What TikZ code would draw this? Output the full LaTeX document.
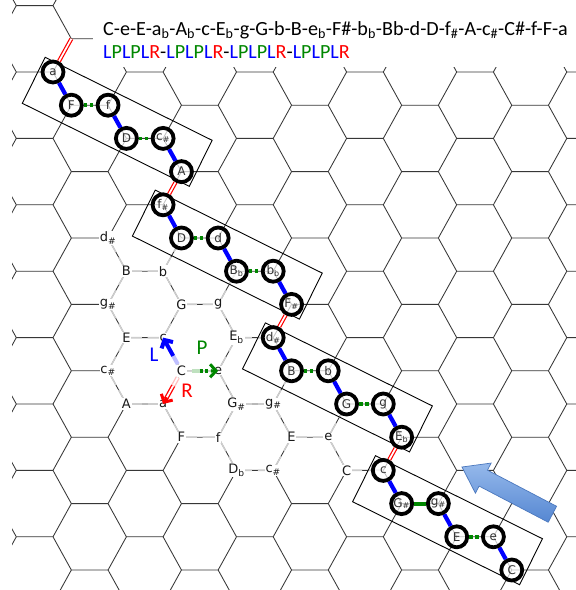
\documentclass[tikz,border=0pt]{standalone}
\usepackage{fontspec}
\setmainfont{Carlito}
\newfontfamily\labfont{DejaVu Sans}
\usetikzlibrary{calc,arrows.meta}
\definecolor{lblue}{RGB}{0,0,255}
\definecolor{pgreen}{RGB}{0,135,0}
\definecolor{rred}{RGB}{255,0,0}
\definecolor{gridc}{RGB}{55,55,55}
\definecolor{latg}{RGB}{205,205,205}
\definecolor{arrfillA}{RGB}{150,185,235}
\definecolor{arrfillB}{RGB}{85,135,210}
\definecolor{arrdraw}{RGB}{75,120,190}
\newcommand{\mysub}[1]{\textsubscript{#1}}
\newcommand{\Lx}{\textcolor{lblue}{L}}
\newcommand{\Px}{\textcolor{pgreen}{P}}
\newcommand{\Rx}{\textcolor{rred}{R}}
\newcommand{\gedge}[2]{\draw[latline] (#1) -- ($(#1)!0.42!(#2)$); \draw[latline] (#2) -- ($(#2)!0.42!(#1)$);}
\begin{document}
\begin{tikzpicture}[x=1pt,y=-1pt,
  gridline/.style={draw=gridc, line width=0.85pt},
  latline/.style={draw=latg, line width=1.5pt},
  lab/.style={fill=white, inner sep=0.8pt, text=black!90, font=\labfont\fontsize{13}{13}\selectfont},
  cn/.style={circle, draw=black, line width=3.8pt, minimum size=21pt, inner sep=0pt, fill=white, fill opacity=0.7, text opacity=1, text=black!80, font=\labfont\fontsize{12}{12}\selectfont},
  grp/.style={draw=black, line width=0.9pt},
  Lc/.style={draw=lblue, line width=4.2pt},
  Pc/.style={draw=pgreen, line width=3.8pt, dash pattern=on 3.5pt off 2.5pt},
  Pcs/.style={draw=pgreen, line width=3.8pt},
  Rc/.style={draw=rred, double=white, line width=1.2pt, double distance=1.7pt},
  leg/.style={font=\fontsize{21}{21}\selectfont, inner sep=0pt}
]
\useasboundingbox (0,0) rectangle (576,590);
\fill[white] (0,0) rectangle (576,590);

% background honeycomb
\begin{scope}
\clip (12,0) rectangle (576,590);
\begin{scope}[shift={(126.4,404)}, x=36.7pt, y=-33.2pt]
\foreach \k in {-13,...,6}{
  \pgfmathtruncatemacro{\pp}{mod(\k+20,2)}
  \foreach \n in {-2,...,4}{
    \pgfmathsetmacro{\mlft}{1.5*\pp+3*\n}
    \draw[gridline] (\mlft,\k) -- (\mlft+1,\k) (\mlft,\k) -- (\mlft-0.5,\k+1) (\mlft+1,\k) -- (\mlft+1.5,\k+1);
  }
}
\end{scope}
\end{scope}
\fill[white] (93,0) rectangle (576,67);

% lattice coordinates
\begin{scope}[shift={(126.4,404)}, x=36.7pt, y=-33.2pt]
\coordinate (tdis) at (-0.5,-5);
\coordinate (tB) at (0,-4);
\coordinate (tb) at (1,-4);
\coordinate (tgis) at (-0.5,-3);
\coordinate (tG) at (1.5,-3);
\coordinate (tg) at (2.5,-3);
\coordinate (tE) at (0,-2);
\coordinate (tc) at (1,-2);
\coordinate (tEs) at (3,-2);
\coordinate (tcis) at (-0.5,-1);
\coordinate (tC) at (1.5,-1);
\coordinate (te) at (2.5,-1);
\coordinate (tA) at (0,0);
\coordinate (ta) at (1,0);
\coordinate (tGis) at (3,0);
\coordinate (tgisb) at (4,0);
\coordinate (tF) at (1.5,1);
\coordinate (tf) at (2.5,1);
\coordinate (tEb) at (4.5,1);
\coordinate (teb) at (5.5,1);
\coordinate (tDes) at (3,2);
\coordinate (tcisb) at (4,2);
\coordinate (tCb) at (6,2);
\coordinate (q1a) at (-2,-10);
\coordinate (q1F) at (-1.5,-9);
\coordinate (q1f) at (-0.5,-9);
\coordinate (q1D) at (0,-8);
\coordinate (q1cis) at (1,-8);
\coordinate (q1A) at (1.5,-7);
\coordinate (q2fis) at (1,-6);
\coordinate (q2D) at (1.5,-5);
\coordinate (q2d) at (2.5,-5);
\coordinate (q2Bb) at (3,-4);
\coordinate (q2bb) at (4,-4);
\coordinate (q2Fis) at (4.5,-3);
\coordinate (q3dis) at (4,-2);
\coordinate (q3B) at (4.5,-1);
\coordinate (q3b) at (5.5,-1);
\coordinate (q3G) at (6,0);
\coordinate (q3g) at (7,0);
\coordinate (q3Eb) at (7.5,1);
\coordinate (q4c) at (7,2);
\coordinate (q4Gis) at (7.5,3);
\coordinate (q4gis) at (8.5,3);
\coordinate (q4E) at (9,4);
\coordinate (q4e) at (10,4);
\coordinate (q4C) at (10.5,5);
\coordinate (qtop) at (-1.5,-11);
\end{scope}

% light Tonnetz edges
\gedge{tdis}{tB} \gedge{tB}{tb} \gedge{tB}{tgis} \gedge{tb}{q2D} \gedge{tb}{tG}
\gedge{tgis}{tE} \gedge{tG}{tg} \gedge{tG}{tc} \gedge{tg}{q2Bb} \gedge{tg}{tEs}
\gedge{tE}{tc} \gedge{tE}{tcis} \gedge{tc}{tC} \gedge{tEs}{q3dis} \gedge{tEs}{te}
\gedge{tcis}{tA} \gedge{tC}{te} \gedge{tC}{ta} \gedge{te}{tGis} \gedge{tA}{ta}
\gedge{ta}{tF} \gedge{tGis}{tgisb} \gedge{tGis}{tf} \gedge{tgisb}{q3B} \gedge{tgisb}{tEb}
\gedge{tF}{tf} \gedge{tf}{tDes} \gedge{tEb}{teb} \gedge{tEb}{tcisb} \gedge{teb}{q3G}
\gedge{teb}{tCb} \gedge{tDes}{tcisb} \gedge{tCb}{q4c}

% Tonnetz labels
\node[lab] (Ldis) at (tdis) {d\mysub{\#}};
\node[lab] (LB) at (tB) {B};
\node[lab] (Lb) at (tb) {b};
\node[lab] (Lgis) at (tgis) {g\mysub{\#}};
\node[lab] (LG) at (tG) {G};
\node[lab] (Lg) at (tg) {g};
\node[lab] (LE) at (tE) {E};
\node[lab] (Lc) at (tc) {c};
\node[lab] (LEs) at (tEs) {E\mysub{b}};
\node[lab] (Lcis) at (tcis) {c\mysub{\#}};
\node[lab] (LC) at (tC) {C};
\node[lab] (Le) at (te) {e};
\node[lab] (LA) at (tA) {A};
\node[lab] (La) at (ta) {a};
\node[lab] (LGis) at (tGis) {G\mysub{\#}};
\node[lab] (Lgisb) at (tgisb) {g\mysub{\#}};
\node[lab] (LF) at (tF) {F};
\node[lab] (Lf) at (tf) {f};
\node[lab] (LEb) at (tEb) {E};
\node[lab] (Leb) at (teb) {e};
\node[lab] (LDes) at (tDes) {D\mysub{b}};
\node[lab] (Lcisb) at (tcisb) {c\mysub{\#}};
\node[lab] (LCb) at (tCb) {C};

% group frames
\coordinate (g1) at ($(q1a)!0.5!(q1A)$);
\coordinate (g2) at ($(q2fis)!0.5!(q2Fis)$);
\coordinate (g3) at ($(q3dis)!0.5!(q3Eb)$);
\coordinate (g4) at ($(q4c)!0.5!(q4C)$);
\foreach \g in {g1,g2,g3,g4}{
  \draw[grp, shift={(\g)}] (-72.1,-64.5) -- (94.9,18.5) -- (72.1,64.5) -- (-94.9,-18.5) -- cycle;
}

% chain circles
\node[cn] (n1a) at (q1a) {a};
\node[cn] (n1F) at (q1F) {F};
\node[cn] (n1f) at (q1f) {f};
\node[cn] (n1D) at (q1D) {D};
\node[cn] (n1cis) at (q1cis) {c\mysub{\#}};
\node[cn] (n1A) at (q1A) {A};
\node[cn] (n2fis) at (q2fis) {f\mysub{\#}};
\node[cn] (n2D) at (q2D) {D};
\node[cn] (n2d) at (q2d) {d};
\node[cn] (n2Bb) at (q2Bb) {B\mysub{b}};
\node[cn] (n2bb) at (q2bb) {b\mysub{b}};
\node[cn] (n2Fis) at (q2Fis) {F\mysub{\#}};
\node[cn] (n3dis) at (q3dis) {d\mysub{\#}};
\node[cn] (n3B) at (q3B) {B};
\node[cn] (n3b) at (q3b) {b};
\node[cn] (n3G) at (q3G) {G};
\node[cn] (n3g) at (q3g) {g};
\node[cn] (n3Eb) at (q3Eb) {E\mysub{b}};
\node[cn] (n4c) at (q4c) {c};
\node[cn] (n4Gis) at (q4Gis) {G\mysub{\#}};
\node[cn] (n4gis) at (q4gis) {g\mysub{\#}};
\node[cn] (n4E) at (q4E) {E};
\node[cn] (n4e) at (q4e) {e};
\node[cn] (n4C) at (q4C) {C};

% chain connectors
\draw[Rc] (n1a) -- (qtop);
\draw[Lc] (n1a) -- (n1F);
\draw[Pc] (n1F) -- (n1f);
\draw[Lc] (n1f) -- (n1D);
\draw[Pc] (n1D) -- (n1cis);
\draw[Lc] (n1cis) -- (n1A);
\draw[Rc] (n1A) -- (n2fis);
\draw[Lc] (n2fis) -- (n2D);
\draw[Pc] (n2D) -- (n2d);
\draw[Lc] (n2d) -- (n2Bb);
\draw[Pc] (n2Bb) -- (n2bb);
\draw[Lc] (n2bb) -- (n2Fis);
\draw[Rc] (n2Fis) -- (n3dis);
\draw[Lc] (n3dis) -- (n3B);
\draw[Pc] (n3B) -- (n3b);
\draw[Lc] (n3b) -- (n3G);
\draw[Pc] (n3G) -- (n3g);
\draw[Lc] (n3g) -- (n3Eb);
\draw[Rc] (n3Eb) -- (n4c);
\draw[Lc] (n4c) -- (n4Gis);
\draw[Pcs] (n4Gis) -- (n4gis);
\draw[Lc] (n4gis) -- (n4E);
\draw[Pc] (n4E) -- (n4e);
\draw[Lc] (n4e) -- (n4C);

% legend arrows at C
\draw[draw=lblue!25, line width=4pt] ($(tC)!0.2!(tc)$) -- ($(tC)!0.45!(tc)$);
\draw[draw=lblue, line width=4pt, -{Straight Barb[length=6pt,width=13pt]}] ($(tC)!0.45!(tc)$) -- (tc);
\draw[draw=pgreen!25, line width=3.5pt] ($(tC)!0.3!(te)$) -- ($(tC)!0.5!(te)$);
\draw[draw=pgreen, line width=3.5pt, dash pattern=on 3pt off 2.5pt] ($(tC)!0.5!(te)$) -- ($(tC)!0.8!(te)$);
\draw[draw=pgreen, line width=3pt, -{Straight Barb[length=6pt,width=13pt]}] ($(tC)!0.8!(te)$) -- (te);
\draw[draw=rred!25, double=white, line width=1.3pt, double distance=1.8pt] ($(tC)!0.2!(ta)$) -- ($(tC)!0.45!(ta)$);
\draw[draw=rred, double=white, line width=1.3pt, double distance=1.8pt] ($(tC)!0.45!(ta)$) -- ($(tC)!0.85!(ta)$);
\draw[draw=rred, line width=3pt, -{Straight Barb[length=6pt,width=13pt]}] ($(tC)!0.8!(ta)$) -- (ta);
\node[leg, text=lblue] (legL) at (154,355) {L};
\node[leg, text=pgreen] (legP) at (202,348) {P};
\node[leg, text=rred] (legR) at (187,391) {R};

% big blue arrow
\begin{scope}[shift={(462,467)}, rotate=-27.6]
\shade[top color=arrfillA, bottom color=arrfillB, draw=arrdraw, line width=0.7pt]
  (0,0) -- (24,-17) -- (24,-9) -- (102,-9) -- (102,9) -- (24,9) -- (24,17) -- cycle;
\end{scope}

% sequence text
\node[anchor=base west, inner sep=0pt, font=\fontsize{20.1}{20.1}\selectfont] (seq) at (103,35)
  {C-e-E-a\mysub{b}-A\mysub{b}-c-E\mysub{b}-g-G-b-B-e\mysub{b}-F\#-b\mysub{b}-Bb-d-D-f\mysub{\#}-A-c\mysub{\#}-C\#-f-F-a};
\node[anchor=base west, inner sep=0pt, font=\fontsize{20.1}{20.1}\selectfont] (ops) at (103,58)
  {\Lx\Px\Lx\Px\Lx\Rx-\Lx\Px\Lx\Px\Lx\Rx-\Lx\Px\Lx\Px\Lx\Rx-\Lx\Px\Lx\Px\Lx\Rx};
\end{tikzpicture}
\end{document}
